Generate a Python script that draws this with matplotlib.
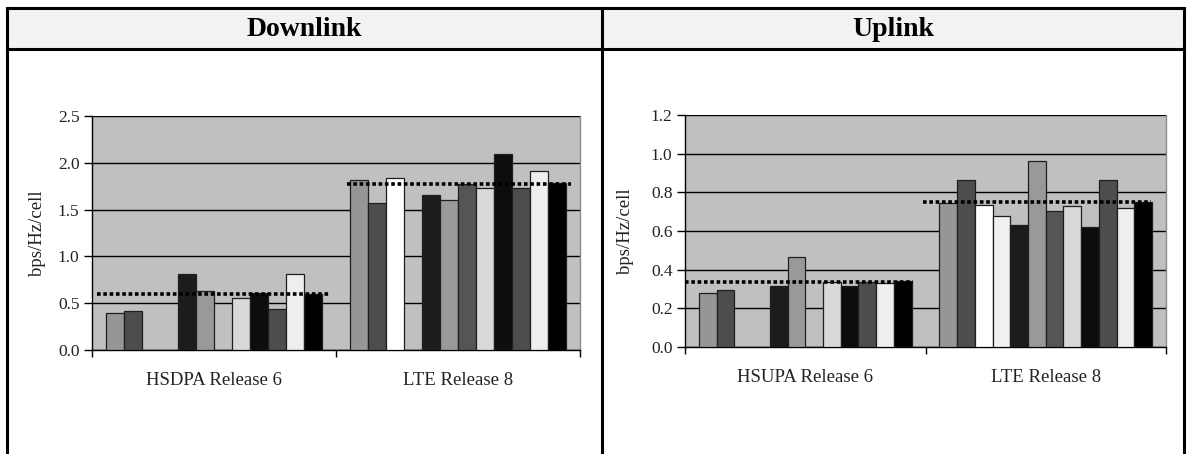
import matplotlib
matplotlib.use('Agg')
import matplotlib.pyplot as plt
import numpy as np
from matplotlib.lines import Line2D
from matplotlib.patches import Rectangle

plt.rcParams['font.family'] = ['Liberation Serif', 'DejaVu Serif']

# ---------------- data ----------------
panel_titles = ['Downlink', 'Uplink']
categories_dl = ['HSDPA Release 6', 'LTE Release 8']
categories_ul = ['HSUPA Release 6', 'LTE Release 8']
y_label = 'bps/Hz/cell'

series_colors = ['#969696', '#4d4d4d', '#ffffff', '#f0f0f0', '#1c1c1c', '#999999',
                 '#555555', '#d9d9d9', '#0d0d0d', '#4d4d4d', '#eeeeee', '#000000']

nan = np.nan
dl_hspa = [0.39, 0.42, nan, nan, 0.81, 0.63, nan, 0.56, 0.61, 0.44, 0.81, 0.60]
dl_lte = [1.82, 1.57, 1.84, nan, 1.66, 1.60, 1.77, 1.73, 2.09, 1.73, 1.91, 1.78]
ul_hspa = [0.28, 0.295, nan, nan, 0.315, 0.465, nan, 0.338, 0.316, 0.338, 0.33, 0.343]
ul_lte = [0.745, 0.865, 0.734, 0.68, 0.63, 0.96, 0.706, 0.727, 0.62, 0.865, 0.72, 0.75]

dl_avg = [0.60, 1.77]
ul_avg = [0.335, 0.75]

dl_yticks = [0.0, 0.5, 1.0, 1.5, 2.0, 2.5]
ul_yticks = [0.0, 0.2, 0.4, 0.6, 0.8, 1.0, 1.2]

# ---------------- layout ----------------
W, H = 1187, 454
fig = plt.figure(figsize=(W / 100, H / 100), dpi=100)


def fx(x):
    return x / W


def fy(y):
    return 1 - y / H


HEAD_TOP, HEAD_BOT = 8, 49
fig.add_artist(Rectangle((fx(7), fy(HEAD_BOT)), fx(1184) - fx(7), fy(HEAD_TOP) - fy(HEAD_BOT),
                         facecolor='#f2f2f2', edgecolor='none',
                         transform=fig.transFigure, zorder=0))
lw_tab = 2.2
for (x0, y0, x1, y1) in [(7, HEAD_TOP, 1184, HEAD_TOP), (7, HEAD_BOT, 1184, HEAD_BOT),
                         (7, HEAD_TOP, 7, 454), (602, HEAD_TOP, 602, 454),
                         (1184, HEAD_TOP, 1184, 454)]:
    fig.add_artist(Line2D([fx(x0), fx(x1)], [fy(y0), fy(y1)], color='black',
                          lw=lw_tab, transform=fig.transFigure, solid_capstyle='projecting'))

head_y = (HEAD_TOP + HEAD_BOT) / 2 + 1
fig.text(fx(304), fy(head_y), panel_titles[0], fontsize=20, fontweight='bold',
         ha='center', va='center')
fig.text(fx(893), fy(head_y), panel_titles[1], fontsize=20, fontweight='bold',
         ha='center', va='center')


def draw_panel(rect_px, cats, groups, avgs, yticks, avg_ext, ylab_x):
    l, t, r, b = rect_px
    ax = fig.add_axes([fx(l), fy(b), fx(r) - fx(l), fy(t) - fy(b)])
    ax.set_facecolor('#c0c0c0')
    nslot = len(series_colors)
    span = 0.885
    w = span / nslot
    offsets = (np.arange(nslot) - (nslot - 1) / 2) * w
    xs = np.arange(len(cats))
    for k in range(nslot):
        vals = np.array([g[k] for g in groups], dtype=float)
        m = ~np.isnan(vals)
        ax.bar(xs[m] + offsets[k], vals[m], width=w, color=series_colors[k],
               edgecolor='#1e1e1e', linewidth=0.9, zorder=3)
    for ci, a in enumerate(avgs):
        x0, x1 = avg_ext[ci]
        ax.plot([ci + x0, ci + x1], [a, a], color='black', lw=2.6,
                linestyle=(0, (1.0, 0.75)), dash_capstyle='butt', zorder=4)
    ax.set_xlim(-0.5, len(cats) - 0.5)
    ax.set_ylim(yticks[0], yticks[-1])
    ax.set_yticks(yticks)
    ax.set_yticklabels(['%.1f' % v for v in yticks], fontsize=12.5, color='#222222')
    ax.yaxis.grid(True, color='black', lw=1.0, zorder=0)
    ax.set_axisbelow(True)
    ax.set_xticks(np.arange(len(cats) + 1) - 0.5)
    ax.set_xticklabels([''] * (len(cats) + 1))
    ax.set_xticks(xs, minor=True)
    ax.set_xticklabels(cats, minor=True, fontsize=13.5, color='#222222')
    ax.tick_params(axis='x', which='minor', length=0, pad=16)
    ax.tick_params(axis='x', which='major', direction='out', length=5, width=1)
    ax.tick_params(axis='y', direction='out', length=6, width=1, pad=3)
    for s in ['left', 'bottom']:
        ax.spines[s].set_color('black')
        ax.spines[s].set_linewidth(1.0)
    ax.spines['top'].set_visible(False)
    ax.spines['right'].set_color('#8a8a8a')
    ax.spines['right'].set_linewidth(1.0)
    fig.text(fx(ylab_x), fy((t + b) / 2), y_label, rotation=90, fontsize=13.5,
             ha='center', va='center', color='#222222')
    return ax


draw_panel((92, 116, 580, 350), categories_dl, [dl_hspa, dl_lte], dl_avg,
           dl_yticks, [(-0.48, 0.47), (-0.455, 0.465)], 38)
draw_panel((685, 115, 1166, 347), categories_ul, [ul_hspa, ul_lte], ul_avg,
           ul_yticks, [(-0.5, 0.448), (-0.51, 0.436)], 626)

fig.savefig('out.png', dpi=100)
